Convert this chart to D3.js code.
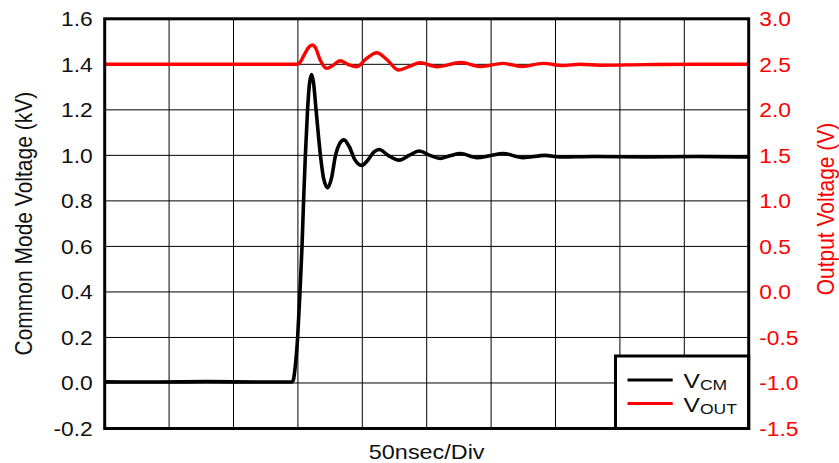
<!DOCTYPE html>
<html><head><meta charset="utf-8">
<script src="https://cdn.jsdelivr.net/npm/d3@7"></script>
<style>body{margin:0;background:#fff}svg{display:block}text{font-family:"Liberation Sans",Arial,sans-serif}</style>
</head><body><svg id="c" width="839" height="463"></svg>
<script>
// ---- data ----
const leftTicks = [-0.2, 0.0, 0.2, 0.4, 0.6, 0.8, 1.0, 1.2, 1.4, 1.6];
const rightTicks = [-1.5, -1.0, -0.5, 0.0, 0.5, 1.0, 1.5, 2.0, 2.5, 3.0];
const timeTicks = [0, 50, 100, 150, 200, 250, 300, 350, 400, 450, 500];
const xLabel = "50nsec/Div";
const leftLabel = "Common Mode Voltage (kV)";
const rightLabel = "Output Voltage (V)";
const seriesSubs = ["CM", "OUT"];

const vcmTime = [0, 40, 80, 120, 145.4, 146.4, 147.7, 149.8, 151.6, 153.2, 154.4, 155.8, 157.5, 159.1, 160.7, 162.1, 164.1, 167.5, 169.9, 173.1, 176.1, 179.2, 182.3, 185.8, 189.7, 194.3, 199.5, 204.4, 209.1, 213.2, 220.0, 228.7, 236.3, 244.3, 252.6, 260.4, 268, 276.0, 289.1, 299, 309.4, 324.8, 341.9, 353.5, 380, 420, 460, 500];
const vcmValue = [0.005, 0.004, 0.006, 0.004, 0.005, 0.012, 0.06, 0.2, 0.4, 0.6, 0.8, 1.0, 1.2, 1.32, 1.355, 1.32, 1.2, 1.0, 0.9, 0.858, 0.9, 1.0, 1.05, 1.068, 1.04, 0.98, 0.956, 0.98, 1.015, 1.026, 1.0, 0.979, 1.0, 1.019, 1.0, 0.987, 0.998, 1.008, 0.99, 0.998, 1.008, 0.99, 1.0, 0.993, 0.995, 0.993, 0.995, 0.993];

const voutTime = [0, 60, 120, 149.3, 151.6, 155.5, 158.6, 161.2, 163.7, 167.2, 172.4, 177.3, 182.7, 188.9, 195.7, 202.9, 211.2, 219.2, 228.0, 237.0, 244.8, 257.8, 276.6, 292.2, 309.2, 324.0, 340.3, 355.8, 369.0, 384.6, 420, 460, 500];
const voutValue = [2.5, 2.5, 2.5, 2.5, 2.52, 2.62, 2.69, 2.712, 2.68, 2.55, 2.456, 2.49, 2.54, 2.5, 2.474, 2.56, 2.627, 2.55, 2.437, 2.48, 2.518, 2.474, 2.52, 2.476, 2.51, 2.476, 2.51, 2.487, 2.5, 2.49, 2.497, 2.5, 2.5];

// ---- layout ----
const L = 104.7, R = 748.7, T = 18.8, B = 428.5;
const SX = 1.17;
const svg = d3.select("#c");
const x = d3.scaleLinear().domain([0, 500]).range([L, R]);
const yL = d3.scaleLinear().domain([-0.2, 1.6]).range([B, T]);
const yR = d3.scaleLinear().domain([-1.5, 3.0]).range([B, T]);

// grid
svg.append("g").selectAll("line").data(timeTicks.slice(1, -1)).join("line")
  .attr("x1", d => x(d)).attr("x2", d => x(d)).attr("y1", T).attr("y2", B)
  .attr("stroke", "#000").attr("stroke-width", 1);
svg.append("g").selectAll("line").data(leftTicks.slice(1, -1)).join("line")
  .attr("y1", d => yL(d)).attr("y2", d => yL(d)).attr("x1", L).attr("x2", R)
  .attr("stroke", "#000").attr("stroke-width", 1);

// clip
svg.append("clipPath").attr("id", "clip").append("rect")
  .attr("x", L).attr("y", T).attr("width", R - L).attr("height", B - T);

const lineL = d3.line().x(d => x(d[0])).y(d => yL(d[1])).curve(d3.curveMonotoneX);
const lineR = d3.line().x(d => x(d[0])).y(d => yR(d[1])).curve(d3.curveMonotoneX);

svg.append("path").attr("clip-path", "url(#clip)")
  .datum(voutTime.map((t, i) => [t, voutValue[i]]))
  .attr("d", lineR).attr("fill", "none").attr("stroke", "#ff0000").attr("stroke-width", 3.4)
  .attr("stroke-linejoin", "round");
svg.append("path").attr("clip-path", "url(#clip)")
  .datum(vcmTime.map((t, i) => [t, vcmValue[i]]))
  .attr("d", lineL).attr("fill", "none").attr("stroke", "#000").attr("stroke-width", 3.6)
  .attr("stroke-linejoin", "round");

// legend
const lg = svg.append("g");
lg.append("rect").attr("x", 615.5).attr("y", 356).attr("width", R - 615.5).attr("height", B - 356)
  .attr("fill", "#fff").attr("stroke", "#000").attr("stroke-width", 3);
const legendColors = ["#000", "#ff0000"];
const legendY = [380, 403.5];
const legendBase = [387.7, 411.7];
seriesSubs.forEach((s, i) => {
  lg.append("line").attr("x1", 627.5).attr("x2", 672.7).attr("y1", legendY[i]).attr("y2", legendY[i])
    .attr("stroke", legendColors[i]).attr("stroke-width", 3);
  const t = lg.append("text").attr("transform", `translate(683.5,${legendBase[i]}) scale(${SX},1)`)
    .attr("font-size", 21).attr("fill", "#111");
  t.append("tspan").text("V");
  t.append("tspan").attr("font-size", 15).attr("dy", 2.5).text(s);
});

// frame
svg.append("rect").attr("x", L).attr("y", T).attr("width", R - L).attr("height", B - T)
  .attr("fill", "none").attr("stroke", "#000").attr("stroke-width", 3);

// axes (labels only)
const fmt = d => d.toFixed(1);
const ga = svg.append("g").attr("transform", `translate(${L},0)`)
  .call(d3.axisLeft(yL).tickValues(leftTicks).tickFormat(fmt).tickSize(0));
ga.select(".domain").remove();
ga.selectAll("text").attr("x", 0).attr("dy", "0.36em")
  .attr("transform", `translate(-12,0) scale(${SX},1)`)
  .attr("font-size", 19.5).attr("fill", "#111").attr("font-family", null);

const gb = svg.append("g").attr("transform", `translate(${R},0)`)
  .call(d3.axisRight(yR).tickValues(rightTicks).tickFormat(fmt).tickSize(0));
gb.select(".domain").remove();
gb.selectAll("text").attr("x", 0).attr("dy", "0.36em")
  .attr("transform", `translate(10.5,0) scale(${SX},1)`)
  .attr("font-size", 19.5).attr("fill", "#ff0000").attr("font-family", null);

// titles
svg.append("text").attr("transform", `translate(${(L + R) / 2},458.5) scale(${SX},1)`)
  .attr("text-anchor", "middle").attr("font-size", 20).attr("fill", "#111").text(xLabel);
svg.append("text").attr("transform", `translate(32.3,${(T + B) / 2}) scale(${SX},1) rotate(-90)`)
  .attr("text-anchor", "middle").attr("font-size", 21).attr("fill", "#111").text(leftLabel);
svg.append("text").attr("transform", `translate(834,209) scale(${SX},1) rotate(-90)`)
  .attr("text-anchor", "middle").attr("font-size", 21).attr("fill", "#ff0000").text(rightLabel);
</script></body></html>
